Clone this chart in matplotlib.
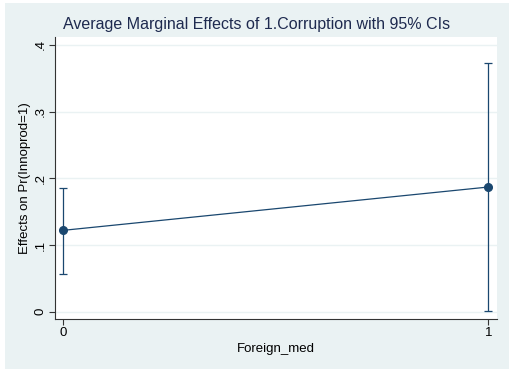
import matplotlib.pyplot as plt

plt.rcParams['font.family'] = ['Liberation Sans', 'DejaVu Sans']

foreign_med = [0, 1]
margins = [0.122, 0.187]
ci_low = [0.057, 0.001]
ci_high = [0.186, 0.373]

navy = '#1a476f'
bg = '#eaf2f3'

fig = plt.figure(figsize=(5.13, 3.72), dpi=100)
fig.patch.set_facecolor('white')
# outer stata-style panel, kept behind the axes
fig.patches.append(plt.Rectangle((5 / 513, 3 / 372), 504 / 513, 366 / 372,
                                 transform=fig.transFigure, facecolor=bg,
                                 edgecolor='none', zorder=-10))

ax = fig.add_axes([55 / 513, 1 - 319 / 372, 442 / 513, 282 / 372])
ax.set_zorder(1)
ax.set_facecolor('white')

yerr = [[m - lo for m, lo in zip(margins, ci_low)],
        [hi - m for m, hi in zip(margins, ci_high)]]
ax.errorbar(foreign_med, margins, yerr=yerr, color=navy, lw=0.9,
            marker='o', ms=5.5, capsize=3, capthick=0.9, zorder=3)

ax.set_xlim(-0.0195, 1.02)
ax.set_ylim(-0.011, 0.412)
ax.set_xticks([0, 1])
ax.set_yticks([0, 0.1, 0.2, 0.3, 0.4])
ax.set_yticklabels(['0', '.1', '.2', '.3', '.4'], rotation=90, va='center')
ax.grid(axis='y', color=bg, lw=1)
ax.set_axisbelow(True)

for s in ['top', 'right']:
    ax.spines[s].set_visible(False)
for s in ['left', 'bottom']:
    ax.spines[s].set_color('#333333')
    ax.spines[s].set_linewidth(0.8)
ax.tick_params(labelsize=9.5, length=4.3, width=0.8, color='#333333', pad=1.5)

ax.set_xlabel('Foreign_med', fontsize=9.5, labelpad=3)
ax.set_ylabel('Effects on Pr(Innoprod=1)', fontsize=9.5)
ax.yaxis.set_label_coords(-0.055, 0.5)
fig.text(0.5, 1 - 25 / 372, 'Average Marginal Effects of 1.Corruption with 95% CIs',
         fontsize=11.5, color='#1e2a4f', ha='center', va='center')

fig.savefig('out.png', dpi=100)
